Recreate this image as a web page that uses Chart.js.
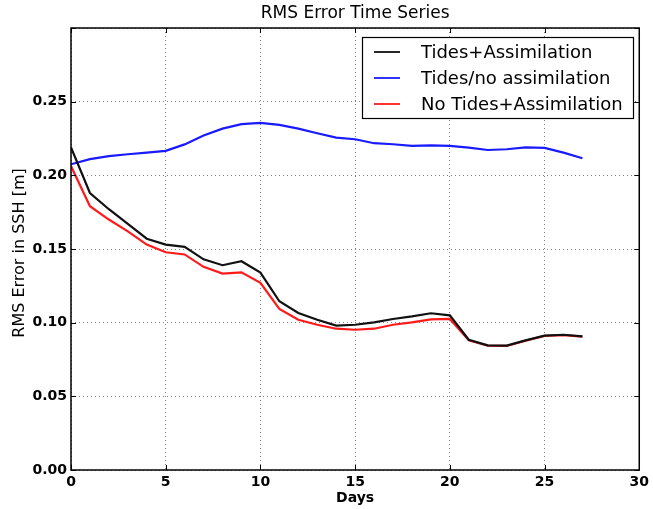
<!DOCTYPE html>
<html>
<head>
<meta charset="utf-8">
<script src="https://cdn.jsdelivr.net/npm/chart.js@4"></script>
<style>
html,body{margin:0;padding:0;background:#fff;}
#wrap{width:653px;height:509px;}
</style>
</head>
<body>
<div id="wrap"><canvas id="c" width="653" height="509"></canvas></div>
<script>
const days = [0,1,2,3,4,5,6,7,8,9,10,11,12,13,14,15,16,17,18,19,20,21,22,23,24,25,26,27];
const tidesAssim = [0.219,0.188,0.177,0.167,0.157,0.153,0.1515,0.143,0.139,0.1417,0.134,0.1145,0.1066,0.102,0.098,0.0986,0.1002,0.1025,0.1043,0.1064,0.105,0.0884,0.0846,0.0844,0.088,0.0912,0.0918,0.0907];
const tidesNoAssim = [0.2075,0.211,0.213,0.2143,0.2154,0.2166,0.221,0.227,0.2317,0.2347,0.2356,0.2342,0.2317,0.2286,0.2256,0.2245,0.2218,0.2211,0.220,0.2204,0.220,0.2188,0.2172,0.2177,0.219,0.2186,0.2154,0.2116];
const noTidesAssim = [0.2063,0.179,0.170,0.162,0.153,0.1478,0.1463,0.1379,0.1333,0.1342,0.127,0.1093,0.102,0.0986,0.0959,0.0952,0.0959,0.0986,0.1002,0.1022,0.1025,0.088,0.0844,0.0842,0.0878,0.091,0.0916,0.0905];
const seriesLabels = ['Tides+Assimilation','Tides/no assimilation','No Tides+Assimilation'];
const titleText = 'RMS Error Time Series';
const xTitle = 'Days';
const yTitle = 'RMS Error in SSH [m]';

const FONT = "'DejaVu Sans', sans-serif";

const framePlugin = {
  id: 'frame',
  afterDraw(chart) {
    const ctx = chart.ctx, a = chart.chartArea;
    const xs = chart.scales.x, ys = chart.scales.y;
    ctx.save();
    ctx.strokeStyle = '#000';
    ctx.lineWidth = 1.5;
    ctx.strokeRect(a.left, a.top, a.right - a.left, a.bottom - a.top);
    ctx.lineWidth = 1;
    xs.ticks.forEach(t => {
      const px = Math.round(xs.getPixelForValue(t.value)) + 0.5;
      ctx.beginPath();
      ctx.moveTo(px, a.bottom); ctx.lineTo(px, a.bottom - 5);
      ctx.moveTo(px, a.top); ctx.lineTo(px, a.top + 5);
      ctx.stroke();
    });
    ys.ticks.forEach(t => {
      const py = Math.round(ys.getPixelForValue(t.value)) + 0.5;
      ctx.beginPath();
      ctx.moveTo(a.left, py); ctx.lineTo(a.left + 5, py);
      ctx.moveTo(a.right, py); ctx.lineTo(a.right - 5, py);
      ctx.stroke();
    });
    // titles
    ctx.fillStyle = '#000';
    ctx.textAlign = 'center';
    ctx.textBaseline = 'middle';
    const cx = (a.left + a.right) / 2;
    ctx.font = '17px ' + FONT;
    ctx.fillText(titleText, cx, 14);
    ctx.font = 'bold 14px ' + FONT;
    ctx.fillText(xTitle, cx, 498);
    ctx.save();
    ctx.translate(20, 253);
    ctx.rotate(-Math.PI / 2);
    ctx.font = '16px ' + FONT;
    ctx.fillText(yTitle, 0, 0);
    ctx.restore();
    // legend
    const lx = 362, ly = 37, lw = 271, lh = 81;
    ctx.fillStyle = '#fff';
    ctx.fillRect(lx, ly, lw, lh);
    ctx.lineWidth = 1.2;
    ctx.strokeStyle = '#000';
    ctx.strokeRect(lx + 0.5, ly + 0.5, lw, lh);
    ctx.font = '18px ' + FONT;
    ctx.textAlign = 'left';
    chart.data.datasets.forEach((ds, i) => {
      const y = ly + 15 + i * 26;
      ctx.strokeStyle = ds.borderColor;
      ctx.lineWidth = 1.8;
      ctx.beginPath();
      ctx.moveTo(374, y); ctx.lineTo(400, y);
      ctx.stroke();
      ctx.fillStyle = '#000';
      ctx.fillText(ds.label, 421, y + 1);
    });
    ctx.restore();
  }
};

new Chart(document.getElementById('c'), {
  type: 'line',
  data: {
    labels: days,
    datasets: [
      {label: seriesLabels[0], data: tidesAssim, borderColor: '#111111', borderWidth: 2.2, pointRadius: 0, tension: 0, fill: false},
      {label: seriesLabels[1], data: tidesNoAssim, borderColor: '#1a1aff', borderWidth: 2.2, pointRadius: 0, tension: 0, fill: false},
      {label: seriesLabels[2], data: noTidesAssim, borderColor: '#ff1a1a', borderWidth: 2.2, pointRadius: 0, tension: 0, fill: false}
    ].map(d => Object.assign(d, {data: d.data.map((v, i) => ({x: days[i], y: v}))}))
  },
  options: {
    responsive: false,
    animation: false,
    devicePixelRatio: 1,
    layout: {padding: {left: 0, right: 11, top: 28, bottom: 0}},
    plugins: {legend: {display: false}, title: {display: false}, tooltip: {enabled: false}},
    scales: {
      x: {
        type: 'linear', min: 0, max: 30,
        ticks: {stepSize: 5, color: '#000', font: {family: FONT, size: 14, weight: 'bold'}, padding: 4, maxRotation: 0},
        grid: {color: 'rgba(0,0,0,0.5)', lineWidth: 1, drawTicks: false},
        border: {display: false, dash: [1, 3]},
        afterFit(s) { s.height = 39; }
      },
      y: {
        type: 'linear', min: 0, max: 0.30,
        ticks: {stepSize: 0.05, color: '#000', font: {family: FONT, size: 14, weight: 'bold'}, padding: 4,
          callback: v => v > 0.299 ? '' : v.toFixed(2)},
        grid: {color: 'rgba(0,0,0,0.5)', lineWidth: 1, drawTicks: false},
        border: {display: false, dash: [1, 3]},
        afterFit(s) { s.width = 71; }
      }
    }
  },
  plugins: [framePlugin]
});
</script>
</body>
</html>
